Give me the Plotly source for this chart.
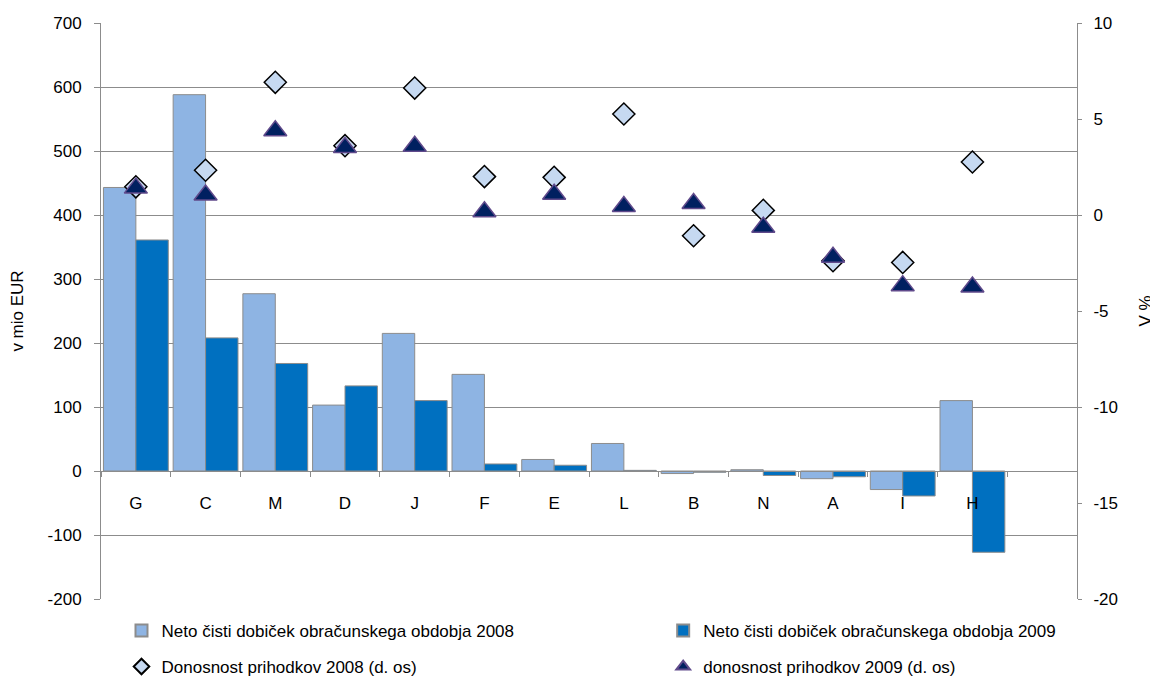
import plotly.graph_objects as go

categories = ["G", "C", "M", "D", "J", "F", "E", "L", "B", "N", "A", "I", "H"]
profit_2008 = [443, 588, 277, 103, 215, 151, 18, 43, -4, 2, -12, -29, 110]
profit_2009 = [361, 208, 168, 133, 110, 11, 9, 1, -2, -7, -9, -39, -127]
roi_2008 = [1.47, 2.33, 6.91, 3.61, 6.61, 2.0, 1.96, 5.26, -1.08, 0.24, -2.38, -2.47, 2.76]
roi_2009 = [1.4, 1.04, 4.39, 3.52, 3.58, 0.17, 1.08, 0.44, 0.6, -0.64, -2.2, -3.68, -3.75]

left_ticks = [-200, -100, 0, 100, 200, 300, 400, 500, 600, 700]
left_ticktext = ["-200", "-100", "0", "100", "200", "300", "400", "500", "600", "700"]
right_ticks = [-20, -15, -10, -5, 0, 5, 10]
right_ticktext = ["-20", "-15", "-10", "-5", "0", "5", "10"]

name_b08 = "Neto čisti dobiček obračunskega obdobja 2008"
name_b09 = "Neto čisti dobiček obračunskega obdobja 2009"
name_s08 = "Donosnost prihodkov 2008 (d. os)"
name_s09 = "donosnost prihodkov 2009 (d. os)"

GRID = "#8c8c8c"
FONT = "Liberation Sans, Arial, sans-serif"
FS = 17

fig = go.Figure()
fig.add_trace(go.Bar(x=categories, y=profit_2008, name=name_b08, showlegend=True,
                     marker=dict(color="#8EB4E3", line=dict(color="#8c8c8c", width=1)),
                     legend="legend"))
fig.add_trace(go.Bar(x=categories, y=profit_2009, name=name_b09, showlegend=True,
                     marker=dict(color="#0070C0", line=dict(color="#8c8c8c", width=1)),
                     legend="legend2"))
fig.add_trace(go.Scatter(x=categories, y=roi_2008, name=name_s08, mode="markers", yaxis="y2",
                         showlegend=True,
                         marker=dict(symbol="diamond", size=17, color="#C6D9F1",
                                     line=dict(color="black", width=1.5)),
                         legend="legend3"))
fig.add_trace(go.Scatter(x=categories, y=roi_2009, name=name_s09, mode="markers", yaxis="y2",
                         showlegend=True,
                         marker=dict(symbol="triangle-up", size=20, color="#002060",
                                     line=dict(color="#604A8B", width=1.5)),
                         legend="legend4"))


def leg(x, y):
    return dict(orientation="h", x=x, y=y, xanchor="left", yanchor="middle",
                itemsizing="constant", bgcolor="rgba(0,0,0,0)", visible=True,
                font=dict(family=FONT, size=FS, color="black"))


fig.update_layout(
    width=1150, height=674, showlegend=True,
    margin=dict(l=93, r=81, t=15, b=83, autoexpand=False),
    paper_bgcolor="white", plot_bgcolor="white",
    font=dict(family=FONT, size=FS, color="black"),
    barmode="group", bargap=0.07, bargroupgap=0,
    xaxis=dict(type="category", categoryorder="array", categoryarray=categories,
               range=[-0.5, 13.5], anchor="free", position=200 / 900,
               showline=True, linecolor=GRID, linewidth=1,
               ticks="outside", tickson="boundaries", ticklen=5, tickcolor=GRID,
               showgrid=False, ticklabelstandoff=17,
               tickfont=dict(size=FS)),
    yaxis=dict(range=[-200, 700], tickmode="array", tickvals=left_ticks, ticktext=left_ticktext,
               showgrid=True, gridcolor=GRID, gridwidth=1,
               zeroline=False, showline=True, linecolor=GRID, linewidth=1,
               ticks="outside", ticklen=6, tickcolor=GRID, ticklabelstandoff=9,
               title=dict(text="v mio EUR", standoff=20, font=dict(size=FS)),
               automargin=False),
    yaxis2=dict(range=[-20, 10], tickmode="array", tickvals=right_ticks, ticktext=right_ticktext,
                overlaying="y", side="right", showgrid=False,
                zeroline=False, showline=True, linecolor=GRID, linewidth=1,
                ticks="outside", ticklen=4, tickcolor=GRID, ticklabelstandoff=8,
                title=dict(text="V %", standoff=22, font=dict(size=FS)),
                automargin=False),
    legend=leg(0.021, -0.0556),
    legend2=leg(0.576, -0.0556),
    legend3=leg(0.021, -0.118),
    legend4=leg(0.576, -0.118),
)

fig.write_html("out.html")
